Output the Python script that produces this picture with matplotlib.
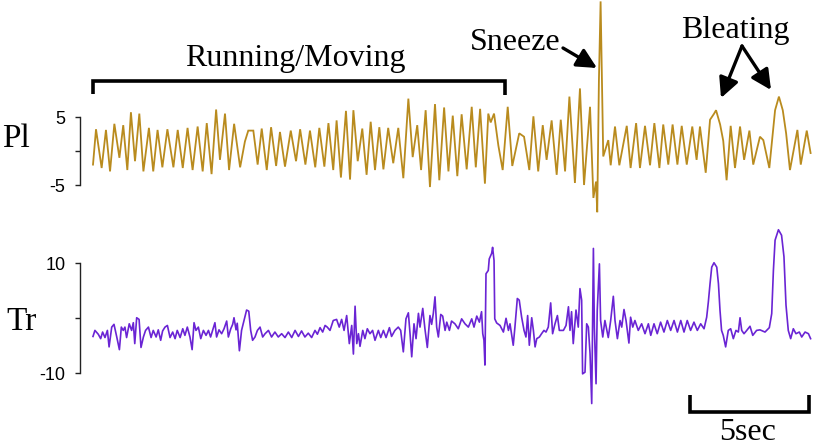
import matplotlib
matplotlib.use("Agg")
import matplotlib.pyplot as plt

# ---------------- data (time in s, amplitude in trace units) ----------------
pl_t = [0.00, 0.125, 0.36, 0.54, 0.71, 0.89, 1.10, 1.26, 1.43, 1.58, 1.75, 1.93,
        2.10, 2.33, 2.51, 2.69, 2.89, 3.10, 3.35, 3.53, 3.74, 3.94, 4.15, 4.36,
        4.57, 4.74, 4.94, 5.13, 5.29, 5.50, 5.67, 5.88, 6.13, 6.33, 6.47, 6.68,
        6.86, 7.03, 7.24, 7.42, 7.63, 7.79, 8.00, 8.24, 8.46, 8.63, 8.85, 9.04,
        9.26, 9.43, 9.64, 9.81,
        10.01, 10.15, 10.33, 10.54, 10.71, 10.85, 11.03, 11.22, 11.40, 11.57, 11.75, 11.93,
        12.10, 12.30, 12.51, 12.72, 12.93, 13.14, 13.32, 13.51, 13.67, 13.86, 14.04, 14.25,
        14.43, 14.63, 14.81, 14.99, 15.18, 15.36, 15.57, 15.78, 15.95, 16.13, 16.33, 16.47,
        16.57, 16.71, 16.89, 17.07, 17.28, 17.47, 17.76, 17.96, 18.18, 18.35, 18.55, 18.74,
        18.90, 19.11, 19.32, 19.49, 19.67, 19.85,
        20.08, 20.29, 20.46, 20.71, 20.85, 20.96, 21.01, 21.08, 21.15, 21.26, 21.47, 21.57,
        21.75, 21.93, 22.24, 22.40, 22.63, 22.79, 23.00, 23.21, 23.39, 23.60, 23.76, 23.97,
        24.15, 24.35, 24.53, 24.74, 24.97, 25.15, 25.29, 25.53, 25.71, 25.88, 25.96, 26.13,
        26.26, 26.40, 26.57, 26.75, 26.96, 27.13, 27.35, 27.51, 27.79, 27.93, 28.18, 28.42,
        28.58, 28.74, 28.88, 29.04, 29.35, 29.49, 29.74, 29.90]
pl_v = [-2.0, 3.2, -2.5, 3.1, -3.0, 4.0, -1.0, 3.8, -2.8, 5.7, -1.5, 5.5,
        -3.0, 3.4, -3.0, 3.1, -2.4, 3.2, -2.4, 3.1, -2.5, 3.4, -2.8, 3.6,
        -3.0, 4.1, -3.4, 6.1, -1.3, 5.5, -2.8, 4.0, -2.4, 1.4, 3.0, 3.0,
        -2.0, 3.3, -2.8, 3.5, -2.2, 2.8, -2.3, 3.0, -1.5, 3.2, -2.0, 3.0,
        -2.4, 3.4, -2.3, 4.1,
        -2.8, 4.5, -3.9, 5.9, -4.2, 6.0, -1.5, 3.3, -3.5, 4.3, -2.8, 3.5,
        -2.7, 3.4, -1.8, 3.4, -4.0, 7.7, -0.9, 3.8, -2.8, 6.0, -5.3, 6.9,
        -4.3, 6.4, -3.0, 5.2, -3.7, 5.4, -2.7, 6.5, -2.4, 6.2, -4.8, 5.5,
        4.2, 5.5, 0.8, -2.8, 6.5, -2.2, 2.6, 2.1, -2.8, 5.1, -3.0, 3.8,
        -1.3, 4.5, -3.5, 4.6, -3.0, 8.0,
        -4.7, 9.2, -5.0, 6.5, -6.9, -4.5, -9.0, 10.4, 22.0, -0.8, 1.6, -2.1,
        3.6, -2.1, 3.7, -2.5, 4.1, -2.5, 3.7, -2.1, 4.1, -2.5, 3.9, -2.0,
        3.9, -2.0, 3.7, -2.0, 3.6, -1.3, 3.6, -3.2, 4.6, 5.5, 6.0, 3.9,
        1.5, -4.3, 3.7, -2.5, 3.6, -1.3, 3.0, -2.0, 2.1, 1.6, -2.5, 6.0,
        8.0, 6.0, 2.6, -2.8, 3.1, -2.0, 3.0, -0.3]

tr_t = [0.00, 0.08, 0.22, 0.32, 0.40, 0.50, 0.60, 0.67, 0.78, 0.875,
        0.99, 1.10, 1.18, 1.26, 1.33, 1.40, 1.51, 1.61, 1.68, 1.74,
        1.82, 1.92, 2.00, 2.10, 2.19, 2.31, 2.42, 2.51, 2.63, 2.72,
        2.82, 2.90, 3.00, 3.10, 3.21, 3.32, 3.42, 3.51, 3.63, 3.74,
        3.83, 3.93, 4.04, 4.13, 4.21, 4.29, 4.39, 4.49, 4.60, 4.71,
        4.81, 4.90, 4.99, 5.08, 5.15, 5.25, 5.36, 5.46, 5.57, 5.64,
        5.74, 5.82, 5.875, 5.96, 6.01, 6.10, 6.19, 6.29, 6.40, 6.49,
        6.57, 6.65, 6.75, 6.85, 6.96, 7.07, 7.17, 7.31, 7.44, 7.58,
        7.72, 7.86, 8.00, 8.14, 8.28, 8.42, 8.56, 8.69, 8.83, 8.97,
        9.11, 9.25, 9.35, 9.46, 9.57, 9.67, 9.76, 9.875,
        10.01, 10.15, 10.26, 10.36, 10.46, 10.57, 10.68, 10.78, 10.85, 10.92,
        10.99, 11.06, 11.125, 11.24, 11.33, 11.43, 11.54, 11.65, 11.75, 11.89,
        11.99, 12.10, 12.21, 12.35, 12.44, 12.58, 12.72, 12.82, 12.93, 13.04,
        13.14, 13.21, 13.28, 13.375, 13.46, 13.56, 13.625, 13.74, 13.83, 13.93,
        14.04, 14.11, 14.18, 14.25, 14.32, 14.39, 14.49, 14.57, 14.67, 14.74,
        14.85, 14.94, 15.08, 15.22, 15.36, 15.50, 15.64, 15.78, 15.875, 15.99,
        16.10, 16.19, 16.24, 16.29, 16.33, 16.375, 16.47, 16.51, 16.61, 16.65,
        16.71, 16.74, 16.82, 16.96, 17.10, 17.21, 17.31, 17.375, 17.51, 17.58,
        17.68, 17.76, 17.86, 17.96, 18.04, 18.11, 18.18, 18.28, 18.35, 18.42,
        18.49, 18.60, 18.69, 18.79, 18.875, 18.97, 19.07, 19.15, 19.25, 19.35,
        19.43,
        19.60, 19.71, 19.81, 19.875, 19.94, 20.01, 20.125, 20.22, 20.29, 20.36,
        20.40, 20.50, 20.57, 20.64, 20.71, 20.78, 20.85, 20.89, 20.96, 21.01,
        21.10, 21.15, 21.24, 21.33, 21.47, 21.57, 21.68, 21.75, 21.85, 21.96,
        22.03, 22.125, 22.21, 22.33, 22.40, 22.49, 22.58, 22.72, 22.86, 23.00,
        23.14, 23.24, 23.375, 23.51, 23.65, 23.79, 23.93, 24.07, 24.21, 24.35,
        24.49, 24.625, 24.76, 24.90, 25.04, 25.18, 25.32, 25.46, 25.57, 25.64,
        25.71, 25.78, 25.875, 25.99, 26.06, 26.125, 26.19, 26.26, 26.36, 26.47,
        26.57, 26.68, 26.79, 26.89, 26.96, 27.03, 27.125, 27.24, 27.375, 27.49,
        27.65, 27.79, 28.00, 28.18, 28.28, 28.35, 28.42, 28.56, 28.69, 28.79,
        28.875, 28.97, 29.07, 29.18, 29.29, 29.43, 29.53, 29.67, 29.81, 29.90]
tr_v = [-3.3, -2.2, -2.9, -3.7, -2.5, -3.5, -2.2, -5.2, -1.6, -1.1,
        -3.4, -5.7, -1.6, -2.2, -1.6, -3.5, -1.0, -2.2, -0.8, -4.6,
        0.1, -0.2, -5.3, -3.4, -2.2, -1.6, -3.5, -2.2, -3.4, -2.1,
        -4.0, -2.3, -1.6, -1.3, -3.5, -2.5, -3.7, -2.2, -3.5, -1.9,
        -3.1, -1.6, -3.4, -5.7, -0.8, -2.2, -1.6, -3.7, -2.2, -3.1,
        -2.2, -3.4, -2.1, -0.8, -3.4, -2.1, -2.8, -1.9, -0.5, -3.4,
        -1.9, -1.1, 0.1, -2.1, -0.9, -5.9, -2.2, -0.4, 1.5, 1.3,
        -2.2, -4.0, -3.4, -2.2, -1.6, -3.4, -2.8, -2.2, -3.4, -2.5,
        -3.4, -2.8, -3.5, -2.5, -3.5, -2.2, -3.3, -2.3, -3.4, -2.7,
        -3.5, -2.2, -2.9, -1.7, -2.5, -1.3, -1.6, -2.2,
        -0.4, -0.2, -1.6, -0.2, -2.2, 0.5, -4.6, -1.3, -6.5, 2.2,
        -4.6, -2.8, -5.1, -2.2, -3.7, -1.9, -2.8, -2.2, -4.0, -2.2,
        -3.5, -2.2, -3.5, -1.7, -3.3, -2.2, -1.6, -2.2, -6.1, -0.1,
        1.0, -2.8, -7.0, -1.0, -3.7, 0.9, -1.6, 1.8, -1.9, -5.3,
        0.5, -1.1, 0.9, 3.9, -1.6, -3.4, 0.7, 0.4, -2.2, -0.7,
        -2.2, -0.5, -1.0, -1.9, -0.1, -1.0, -1.6, -0.1, -1.6, 0.4,
        -0.7, 1.2, -2.8, -4.0, -8.5, 8.1, 8.7, 10.8, 11.8, 12.9,
        10.5, -0.1, -0.85, -1.3, -2.5, 0.0, -2.2, -1.0, -4.9, -1.6,
        3.6, 3.3, 0.2, -2.2, -3.4, 0.5, -4.9, 0.1, -2.2, -5.2,
        -3.7, -3.4, -2.8, -2.2, -2.5, -1.6, 2.8, -2.8, -1.0, 0.5,
        -2.2,
        -2.2, -1.3, 2.1, -2.2, 1.2, -4.6, 1.5, -1.6, 5.4, 3.3,
        -10.1, -9.8, -1.0, -1.6, -6.4, -15.5, 12.7, -1.6, -11.9, 1.45,
        9.9, -0.4, -3.4, -0.4, -3.5, -0.4, 4.0, -0.4, -3.7, -0.4,
        -1.6, 1.6, -0.4, -4.5, 0.2, -1.6, -0.4, -2.2, -1.0, -2.8,
        -1.0, -3.1, -1.0, -2.8, -0.7, -2.5, -0.4, -2.2, -0.4, -2.5,
        -0.4, -2.5, -0.4, -2.2, -0.7, -2.2, -1.0, -1.9, 0.2, 3.0,
        6.3, 9.3, 10.1, 9.3, 6.3, 1.45, -2.2, -3.1, -5.2, -2.2,
        -1.9, -3.7, -2.2, -2.5, 0.1, -2.2, -2.8, -2.2, -1.45, -3.1,
        -2.2, -2.1, -2.5, -1.7, 0.85, 8.7, 14.2, 16.1, 15.1, 11.2,
        2.4, -2.2, -3.7, -1.9, -2.8, -2.5, -3.4, -2.5, -2.8, -3.7]

pl_ticks = [-5, 0, 5]
pl_ticklabels = ["-5", "", "5"]
tr_ticks = [-10, 0, 10]
tr_ticklabels = ["-10", "", "10"]

if len(pl_t) != len(pl_v) or len(tr_t) != len(tr_v):
    raise SystemExit(f"length mismatch pl {len(pl_t)} {len(pl_v)} tr {len(tr_t)} {len(tr_v)}")

# ---------------- figure ----------------
W, H = 813, 446
fig = plt.figure(figsize=(W / 100, H / 100), dpi=100)
fig.patch.set_facecolor("white")

PL_COLOR = "#B98B1E"
TR_COLOR = "#6A24D4"
SERIF = ["Liberation Serif", "DejaVu Serif"]
SANS = ["Liberation Sans", "DejaVu Sans"]

x_left_px, x_right_px = 80, 813
t_per_px = 1 / 24.0
xlim = ((x_left_px - 93) * t_per_px, (x_right_px - 93) * t_per_px)


def make_axes(top_px, bot_px, v_top, v_bot, ticks, labels, bound):
    ax = fig.add_axes([x_left_px / W, 1 - bot_px / H,
                       (x_right_px - x_left_px) / W, (bot_px - top_px) / H])
    ax.set_xlim(*xlim)
    ax.set_ylim(v_bot, v_top)
    ax.patch.set_alpha(0)
    for s in ("top", "right", "bottom"):
        ax.spines[s].set_visible(False)
    ax.spines["left"].set_bounds(-bound, bound)
    ax.spines["left"].set_linewidth(1.0)
    ax.spines["left"].set_color("#222222")
    ax.set_xticks([])
    ax.set_yticks(ticks)
    ax.set_yticklabels(labels, family=SANS, fontsize=13)
    ax.tick_params(axis="y", direction="out", length=3.5, width=1.0,
                   color="#222222", pad=7)
    return ax


# Pl axes: value = (151 - y_px)/6.8
ax1 = make_axes(0, 215, (151 - 0) / 6.8, (151 - 215) / 6.8,
                pl_ticks, pl_ticklabels, 5)
ax1.plot(pl_t, pl_v, color=PL_COLOR, lw=1.3, clip_on=False,
         solid_joinstyle="miter")

# Tr axes: value = (318.3 - y_px)/5.5
ax2 = make_axes(220, 410, (318.3 - 220) / 5.5, (318.3 - 410) / 5.5,
                tr_ticks, tr_ticklabels, 10)
ax2.plot(tr_t, tr_v, color=TR_COLOR, lw=1.2, clip_on=False)

# ---------------- annotations overlay (pixel coordinates) ----------------
ov = fig.add_axes([0, 0, 1, 1])
ov.set_xlim(0, W)
ov.set_ylim(H, 0)
ov.axis("off")
ov.patch.set_alpha(0)

FS = 23
ov.text(2, 147, "Pl", family=SERIF, fontsize=24, ha="left", va="baseline")
ov.text(6, 330, "Tr", family=SERIF, fontsize=24, ha="left", va="baseline")

# Running/Moving bracket
ov.plot([93, 93, 505, 505], [94, 81, 81, 95], color="black", lw=2.6,
        solid_joinstyle="miter", solid_capstyle="butt")
ov.text(295, 66, "Running/Moving", family=SERIF, fontsize=FS,
        ha="center", va="baseline")

# Sneeze
ov.text(515, 50, "Sneeze", family=SERIF, fontsize=FS, ha="center", va="baseline")
ov.annotate("", xy=(597, 68), xytext=(563, 48),
            arrowprops=dict(arrowstyle="-|>", lw=2.4, color="black",
                            mutation_scale=30, shrinkA=0, shrinkB=0))

# Bleating
ov.text(735, 38, "Bleating", family=SERIF, fontsize=FS, ha="center", va="baseline")
for tip in [(721, 98), (771, 90)]:
    ov.annotate("", xy=tip, xytext=(742, 46),
                arrowprops=dict(arrowstyle="-|>", lw=2.4, color="black",
                                mutation_scale=30, shrinkA=0, shrinkB=0))

# 5 sec scale bar
ov.plot([690, 690, 809, 809], [395, 412, 412, 395], color="black", lw=2.6,
        solid_joinstyle="miter", solid_capstyle="butt")
ov.text(748, 440, "5sec", family=SERIF, fontsize=23, ha="center", va="baseline")

fig.savefig("out.png", dpi=100, facecolor="white")
